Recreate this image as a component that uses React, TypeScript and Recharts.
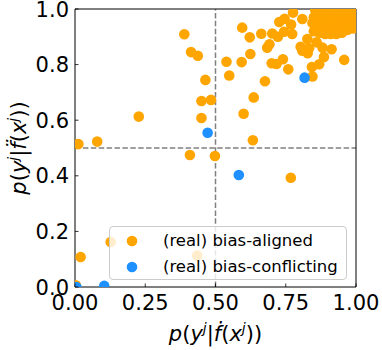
import { ScatterChart, Scatter, XAxis, YAxis, ReferenceLine, Legend } from "recharts";

const FONT = "'DejaVu Sans', sans-serif";
const ORANGE = "#ffa500";
const BLUE = "#1e90ff";

// bias-aligned samples (orange)
const alignedX = [
  0.389, 0.413, 0.437, 0.464, 0.45, 0.484, 0.45, 0.227, 0.079, 0.012,
  0.595, 0.622, 0.663, 0.702, 0.722, 0.744, 0.773, 0.727, 0.746, 0.769,
  0.776, 0.809, 0.855, 0.692, 0.684, 0.624, 0.539, 0.593, 0.549, 0.7,
  0.717, 0.74, 0.759, 0.676, 0.636, 0.6, 0.633, 0.803, 0.827, 0.833,
  0.828, 0.809, 0.86, 0.881, 0.913, 0.886, 0.869, 0.843, 0.845, 0.958,
  0.409, 0.498, 0.768, 0.02, 0.127, 0.435, 0.003,
  // dense cluster top right
  0.845, 0.85, 0.86, 0.87, 0.87, 0.88, 0.88, 0.89, 0.89, 0.9,
  0.9, 0.91, 0.91, 0.92, 0.92, 0.93, 0.93, 0.93, 0.94, 0.94,
  0.95, 0.95, 0.95, 0.96, 0.96, 0.96, 0.97, 0.97, 0.97, 0.98,
  0.98, 0.98, 0.99, 0.99, 0.99, 1.0, 1.0, 1.0, 0.85, 0.86,
  0.89, 0.92, 0.94, 0.97, 1.0, 0.99,
];
const alignedY = [
  0.909, 0.845, 0.832, 0.745, 0.669, 0.673, 0.608, 0.613, 0.523, 0.514,
  0.933, 0.898, 0.911, 0.912, 0.9, 0.918, 0.91, 0.953, 0.965, 0.944,
  0.987, 0.964, 0.996, 0.873, 0.861, 0.838, 0.81, 0.809, 0.761, 0.805,
  0.802, 0.819, 0.783, 0.74, 0.682, 0.623, 0.528, 0.864, 0.892, 0.859,
  0.841, 0.85, 0.88, 0.861, 0.855, 0.827, 0.801, 0.791, 0.757, 0.817,
  0.475, 0.471, 0.393, 0.108, 0.162, 0.113, 0.006,
  0.95, 0.97, 0.93, 0.96, 0.915, 0.98, 0.94, 0.91, 0.96, 0.99,
  0.93, 0.95, 0.91, 0.97, 0.92, 0.99, 0.94, 0.91, 0.96, 0.92,
  0.98, 0.94, 0.915, 1.0, 0.96, 0.93, 0.98, 0.95, 0.925, 0.99,
  0.96, 0.94, 1.0, 0.97, 0.95, 0.98, 0.96, 1.0, 0.92, 0.99,
  0.99, 1.0, 0.99, 1.0, 0.935, 0.93,
];

// bias-conflicting samples (blue)
const conflictX = [0.472, 0.817, 0.583, 0.104, 0.005];
const conflictY = [0.555, 0.753, 0.403, 0.004, 0.0];

const xTicks = [0, 0.25, 0.5, 0.75, 1];
const yTicks = [0, 0.2, 0.4, 0.6, 0.8, 1];
const seriesNames = ["(real) bias-aligned", "(real) bias-conflicting"];

const aligned = alignedX.map((x, i) => ({ x, y: alignedY[i] }));
const conflicting = conflictX.map((x, i) => ({ x, y: conflictY[i] }));

const dot = (color: string) => (p: any) =>
  <circle cx={p.cx} cy={p.cy} r={5.3} fill={color} />;

function XTick({ x, y, payload }: any) {
  return (
    <g>
      <line x1={x} x2={x} y1={y} y2={y - 3.5} stroke="#000" strokeWidth={0.8} />
      <text x={x} y={y + 23} textAnchor="middle" fontSize={21} fontFamily={FONT} fill="#000">
        {payload.value.toFixed(2)}
      </text>
    </g>
  );
}

function YTick({ x, y, payload }: any) {
  return (
    <g>
      <line x1={x} x2={x + 3.5} y1={y} y2={y} stroke="#000" strokeWidth={0.8} />
      <text x={x - 6} y={y + 7.5} textAnchor="end" fontSize={21} fontFamily={FONT} fill="#000">
        {payload.value.toFixed(1)}
      </text>
    </g>
  );
}

// p(y^j | f(x^j)) in mathtext style
function MathLabel({ x, y, rotate, accent }: { x: number; y: number; rotate?: boolean; accent: string }) {
  return (
    <text
      x={x}
      y={y}
      textAnchor="middle"
      fontSize={21}
      fontFamily={FONT}
      fill="#000"
      transform={rotate ? `rotate(-90 ${x} ${y})` : undefined}
    >
      <tspan fontStyle="italic">p</tspan>
      <tspan>(</tspan>
      <tspan fontStyle="italic">y</tspan>
      <tspan fontStyle="italic" fontSize={14} dy={-8}>j</tspan>
      <tspan dy={8}>|</tspan>
      <tspan fontStyle="italic">{accent}</tspan>
      <tspan>(</tspan>
      <tspan fontStyle="italic">x</tspan>
      <tspan fontStyle="italic" fontSize={14} dy={-8}>j</tspan>
      <tspan dy={8}>))</tspan>
    </text>
  );
}

function LegendBox() {
  const colors = [ORANGE, BLUE];
  return (
    <div
      style={{
        position: "relative",
        boxSizing: "border-box",
        width: 238,
        height: 54,
        background: "rgba(255,255,255,0.8)",
        border: "1px solid #cccccc",
        borderRadius: 4,
        fontFamily: FONT,
        fontSize: 16.5,
        color: "#000",
      }}
    >
      {seriesNames.map((name, i) => (
        <div key={name} style={{ position: "absolute", left: 0, top: 3 + i * 26, height: 22, width: 236 }}>
          <svg width={30} height={22} style={{ position: "absolute", left: 7, top: 0 }}>
            <circle cx={15} cy={11} r={5.3} fill={colors[i]} />
          </svg>
          <span style={{ position: "absolute", left: 53, top: 0, lineHeight: "22px", whiteSpace: "nowrap" }}>
            {name}
          </span>
        </div>
      ))}
    </div>
  );
}

export default function App() {
  return (
    <div style={{ position: "absolute", left: 0, top: 0, width: 382, height: 350, background: "#fff" }}>
      <ScatterChart width={382} height={350} margin={{ top: 9, right: 26, left: 0, bottom: 0 }}>
        <XAxis
          type="number"
          dataKey="x"
          domain={[0, 1]}
          ticks={xTicks}
          interval={0}
          allowDataOverflow
          height={63}
          tickSize={0}
          tickMargin={0}
          axisLine={{ stroke: "#000", strokeWidth: 1 }}
          tick={<XTick />}
          label={{ content: (p: any) => <MathLabel x={p.viewBox.x + p.viewBox.width / 2} y={341} accent={"\u1E1F"} /> }}
        />
        <YAxis
          type="number"
          dataKey="y"
          domain={[0, 1]}
          ticks={yTicks}
          interval={0}
          allowDataOverflow
          width={75}
          tickSize={0}
          tickMargin={0}
          axisLine={{ stroke: "#000", strokeWidth: 1 }}
          tick={<YTick />}
          label={{ content: (p: any) => <MathLabel x={26} y={p.viewBox.y + p.viewBox.height / 2} rotate accent={"f\u0308"} /> }}
        />
        <Scatter name={seriesNames[0]} data={aligned} fill={ORANGE} shape={dot(ORANGE)} isAnimationActive={false} />
        <Scatter name={seriesNames[1]} data={conflicting} fill={BLUE} shape={dot(BLUE)} isAnimationActive={false} />
        <ReferenceLine x={0.5} stroke="#808080" strokeWidth={1.5} strokeDasharray="5.5 2.4" />
        <ReferenceLine y={0.5} stroke="#808080" strokeWidth={1.5} strokeDasharray="5.5 2.4" />
        <ReferenceLine x={1} stroke="#000" strokeWidth={1} />
        <ReferenceLine y={1} stroke="#000" strokeWidth={1} />
        <Legend
          layout="vertical"
          align="center"
          verticalAlign="middle"
          content={() => <LegendBox />}
          wrapperStyle={{ left: 109, top: 226, width: 238, height: 54 }}
        />
      </ScatterChart>
    </div>
  );
}
